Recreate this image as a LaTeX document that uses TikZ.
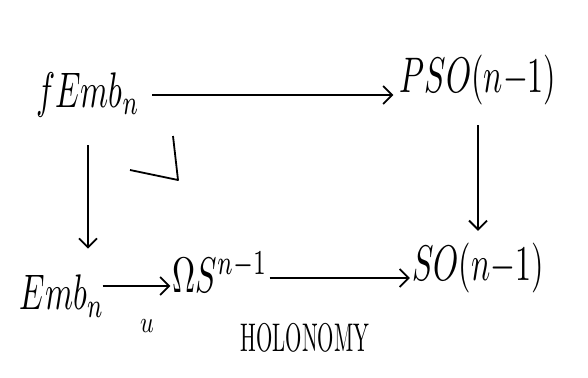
\documentclass[tikz,border=0pt]{standalone}
\usepackage{graphicx}
\usetikzlibrary{arrows.meta}
\newcommand{\bigobj}[1]{\scalebox{3.2}[5]{$#1$}}
\begin{document}
\begin{tikzpicture}[x=1pt,y=-1pt,
  obj/.style={inner sep=2pt},
  arr/.style={line width=1.8pt, -{Straight Barb[length=9pt,width=18pt,line width=1.8pt]}},
  lbl/.style={inner sep=1pt}]
\useasboundingbox (0,0) rectangle (588,377);
\node[obj] (fE) at (88,95) {\bigobj{fEmb_n}};
\node[obj] (pso) at (478,80) {\bigobj{PSO(n{-}1)}};
\node[obj] (emb) at (62,296) {\bigobj{Emb_n}};
\node[obj] (om) at (220,272) {\bigobj{\Omega S^{n-1}}};
\node[obj] (so) at (478,268) {\bigobj{SO(n{-}1)}};
\node[lbl] (u) at (147,326) {\scalebox{2.4}[3]{$u$}};
\node[lbl] (hol) at (305,338) {\scalebox{2.1}[4]{HOLONOMY}};
\draw[arr, shorten <=10pt, shorten >=4pt] (fE.east) -- (pso.west |- fE.east);
\draw[arr, shorten <=26pt, shorten >=24pt] (fE.south) -- (emb.north -| fE.south);
\draw[arr, shorten <=18pt, shorten >=10pt] (pso.south) -- (so.north);
\draw[arr, shorten <=-4pt] ([yshift=10pt]emb.east) -- ([yshift=10pt]om.west |- emb.east);
\draw[arr] ([yshift=-10pt]om.east |- so.west) -- ([yshift=-10pt]so.west);
\coordinate (c1) at (173,136);
\coordinate (c2) at (178,180);
\coordinate (c3) at (130,170);
\draw[line width=1.8pt, line join=round] (c1) -- (c2) -- (c3);
\end{tikzpicture}
\end{document}
